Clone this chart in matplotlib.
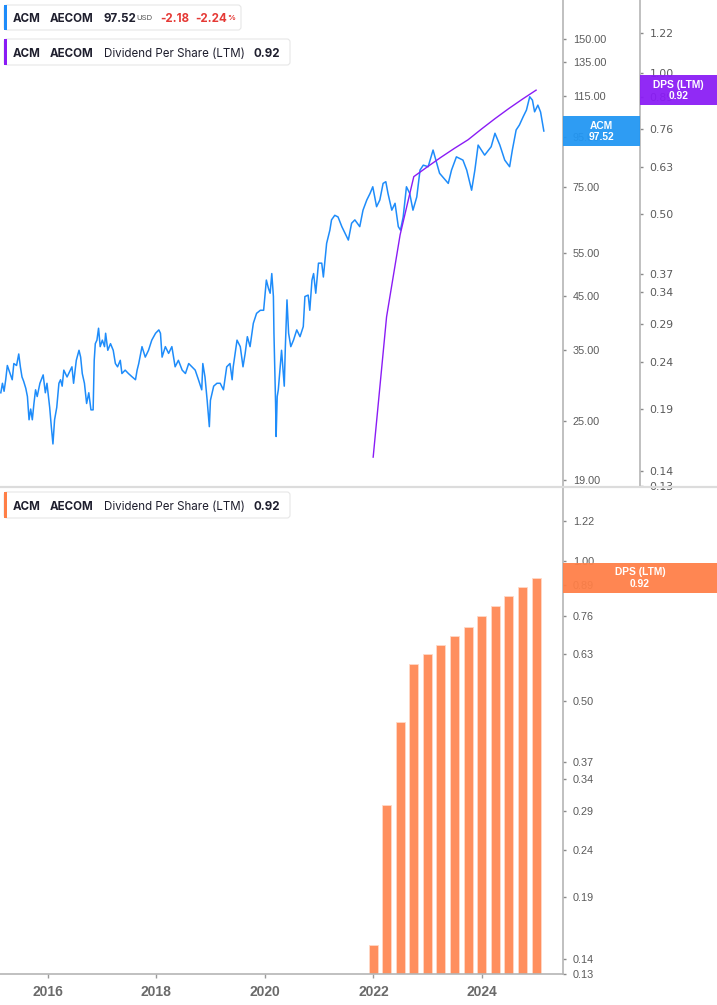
import numpy as np
import pandas as pd
import matplotlib
matplotlib.use("Agg")
import matplotlib.pyplot as plt
import matplotlib.ticker as mticker
from matplotlib.patches import Rectangle, FancyBboxPatch
from matplotlib.transforms import IdentityTransform

# ---------------- data ----------------
price_t = [2015.14, 2015.17, 2015.20, 2015.23, 2015.26, 2015.31, 2015.35, 2015.38, 2015.43, 2015.47,
           2015.50, 2015.53, 2015.56, 2015.60, 2015.63, 2015.66, 2015.69, 2015.72, 2015.75, 2015.78,
           2015.81, 2015.86, 2015.92, 2015.96, 2015.99, 2016.04, 2016.07, 2016.10, 2016.13, 2016.17,
           2016.21, 2016.24, 2016.27, 2016.30, 2016.36, 2016.42, 2016.45, 2016.48, 2016.53, 2016.58,
           2016.61, 2016.64, 2016.68, 2016.72, 2016.76, 2016.80, 2016.84, 2016.86, 2016.88, 2016.91,
           2016.94, 2016.97, 2017.01, 2017.05, 2017.07, 2017.11, 2017.16, 2017.21, 2017.25, 2017.29,
           2017.34, 2017.37, 2017.43, 2017.49, 2017.56, 2017.62, 2017.65, 2017.68, 2017.74, 2017.80,
           2017.86, 2017.92, 2017.99, 2018.05, 2018.08, 2018.11, 2018.17, 2018.23, 2018.29, 2018.35,
           2018.41, 2018.48, 2018.54, 2018.60, 2018.66, 2018.72, 2018.78, 2018.84, 2018.86, 2018.90,
           2018.94, 2018.98, 2019.00, 2019.06, 2019.12, 2019.18, 2019.24, 2019.30, 2019.36, 2019.40,
           2019.42, 2019.49, 2019.55, 2019.60, 2019.64, 2019.68, 2019.73, 2019.79, 2019.85, 2019.92,
           2019.98, 2020.03, 2020.07, 2020.10, 2020.13, 2020.16, 2020.17, 2020.20, 2020.21, 2020.23,
           2020.25, 2020.28, 2020.31, 2020.36, 2020.38, 2020.41, 2020.44, 2020.48, 2020.53, 2020.59,
           2020.65, 2020.71, 2020.74, 2020.80, 2020.83, 2020.87, 2020.90, 2020.94, 2020.99, 2021.05,
           2021.08, 2021.14, 2021.20, 2021.23, 2021.29, 2021.35, 2021.42, 2021.48, 2021.54, 2021.60,
           2021.66, 2021.75, 2021.81, 2021.88, 2021.94, 2021.99, 2022.06, 2022.12, 2022.18, 2022.23,
           2022.27, 2022.34, 2022.40, 2022.46, 2022.50, 2022.55, 2022.61, 2022.67, 2022.73, 2022.80,
           2022.86, 2022.92, 2023.01, 2023.10, 2023.22, 2023.38, 2023.44, 2023.53, 2023.65, 2023.72,
           2023.81, 2023.87, 2023.93, 2024.05, 2024.17, 2024.24, 2024.33, 2024.42, 2024.51, 2024.56,
           2024.63, 2024.69, 2024.76, 2024.82, 2024.88, 2024.93, 2024.97, 2025.03, 2025.08, 2025.14]
price_v = [28.6, 29.9, 28.8, 30.4, 32.5, 31.3, 30.4, 32.8, 32.5, 34.3,
           32.3, 30.8, 30.2, 29.2, 28.1, 25.2, 26.5, 25.2, 27.2, 29.0,
           28.1, 29.9, 31.1, 28.6, 29.9, 26.7, 24.4, 22.5, 25.2, 26.7,
           29.9, 30.4, 29.5, 31.8, 30.8, 31.8, 32.3, 29.9, 33.3, 34.9,
           33.8, 31.3, 29.9, 27.2, 28.6, 26.4, 26.4, 33.3, 36.0, 36.6,
           38.7, 35.5, 36.6, 35.5, 37.8, 34.9, 36.0, 34.9, 32.8, 32.3,
           33.3, 31.3, 31.8, 31.3, 30.8, 30.4, 31.8, 32.8, 35.5, 33.8,
           34.9, 36.6, 37.8, 38.4, 37.8, 33.8, 35.5, 34.4, 35.5, 32.3,
           33.3, 31.8, 31.3, 32.8, 32.3, 31.8, 30.4, 29.0, 32.8, 30.8,
           27.6, 24.4, 27.6, 29.5, 29.9, 29.9, 29.0, 32.3, 32.8, 30.4,
           32.3, 36.6, 35.5, 32.3, 34.4, 37.2, 35.5, 39.6, 41.5, 42.1,
           42.1, 48.5, 46.6, 45.6, 50.0, 44.9, 37.8, 27.2, 23.3, 28.1,
           29.0, 31.8, 34.9, 29.5, 35.5, 44.2, 37.8, 35.5, 36.6, 38.4,
           37.2, 39.0, 44.9, 45.2, 42.1, 48.5, 50.0, 45.6, 52.5, 52.5,
           49.2, 57.6, 61.3, 64.3, 65.7, 65.2, 62.3, 60.4, 58.5, 63.3,
           64.3, 62.3, 67.3, 70.6, 72.8, 75.1, 68.4, 70.6, 76.3, 76.9,
           72.8, 67.3, 69.5, 62.3, 61.3, 65.2, 75.1, 72.8, 67.3, 71.6,
           81.2, 83.1, 82.5, 89.2, 80.0, 76.3, 81.2, 86.4, 85.1, 81.2,
           73.9, 81.2, 91.3, 87.1, 90.6, 96.5, 91.3, 85.1, 82.5, 89.2,
           98.0, 100.3, 104.3, 107.6, 114.5, 112.7, 106.7, 110.1, 106.6, 97.52]

div_dates = ["2021-12-31", "2022-03-31", "2022-06-30", "2022-09-30", "2022-12-31",
             "2023-03-31", "2023-06-30", "2023-09-30", "2023-12-31", "2024-03-31",
             "2024-06-30", "2024-09-30", "2024-12-31"]
div_ltm = [0.15, 0.30, 0.45, 0.60, 0.63, 0.66, 0.69, 0.72, 0.76, 0.80, 0.84, 0.88, 0.92]

price_ticks = [19, 25, 35, 45, 55, 75, 95, 115, 135, 150]
dps_ticks = [0.13, 0.14, 0.19, 0.24, 0.29, 0.34, 0.37, 0.50, 0.63, 0.76, 0.89, 1.00, 1.22]
year_ticks = [2016, 2018, 2020, 2022, 2024]

ticker_sym = "ACM"
company = "AECOM"
last_price = 97.52
change = -2.18
change_pct = -2.24
metric_name = "Dividend Per Share (LTM)"
last_dps = 0.92

# ---------------- style ----------------
BLUE = "#1E8CFA"
BLUE_BOX = "#2196F3"
PURPLE = "#8A1CF5"
ORANGE_BAR = "#FF8F5E"
ORANGE_BOX = "#FF7F47"
RED = "#E53935"
AX_COL = "#b5b5b5"
TICK_TXT = "#5a5a5a"
TICK_FONT = "Liberation Sans"
LEG_FONT = "Inter"

W, H = 717, 1005
fig = plt.figure(figsize=(W / 100, H / 100), dpi=100)
fig.patch.set_facecolor("white")

def fx(px):
    return px / W

def fy(py):
    return 1 - py / H

XMIN, XMAX = 2015.125, 2025.493

def to_year(s):
    d = pd.Timestamp(s)
    start = pd.Timestamp(year=d.year, month=1, day=1)
    end = pd.Timestamp(year=d.year + 1, month=1, day=1)
    return d.year + (d - start) / (end - start)

div_t = [to_year(s) for s in div_dates]

def style_axis(ax, ticks, fmt):
    for s in ["top", "left", "bottom"]:
        ax.spines[s].set_visible(False)
    ax.spines["right"].set_visible(True)
    ax.spines["right"].set_color(AX_COL)
    ax.spines["right"].set_linewidth(1.2)
    ax.set_yscale("log")
    ax.yaxis.set_major_locator(mticker.FixedLocator(ticks))
    ax.yaxis.set_major_formatter(mticker.FuncFormatter(lambda v, p: fmt % v))
    ax.yaxis.set_minor_locator(mticker.NullLocator())
    ax.yaxis.set_minor_formatter(mticker.NullFormatter())
    ax.yaxis.set_ticks_position("right")
    ax.yaxis.set_label_position("right")
    ax.tick_params(axis="y", which="major", direction="out", length=2.5, width=1,
                   color="#8a8a8a", pad=4.5, labelsize=7.8, labelcolor=TICK_TXT,
                   left=False, labelleft=False, right=True, labelright=True)
    for lab in ax.get_yticklabels():
        lab.set_fontfamily(TICK_FONT)

# ---------------- top panel: price + DPS line ----------------
ax1 = fig.add_axes([0, fy(487), fx(563), 487 / H])
ax1.set_facecolor("none")
ax1.plot(price_t, price_v, color=BLUE, lw=1.1, zorder=3)
ax1.set_xlim(XMIN, XMAX)
ax1.set_ylim(18.39, 180.2)

ax2 = ax1.twinx()
ax2.plot(div_t, div_ltm, color=PURPLE, lw=1.0, zorder=2)
ax2.set_ylim(0.1294, 1.4365)
ax2.set_xlim(XMIN, XMAX)

style_axis(ax1, price_ticks, "%.2f")
style_axis(ax2, dps_ticks, "%.2f")
ax2.spines["right"].set_position(("axes", 640 / 563))
ax1.set_xticks([])
ax2.set_xticks([])
ax1.set_ylim(18.39, 180.2)
ax2.set_ylim(0.1294, 1.4365)

# ---------------- bottom panel: DPS bars ----------------
ax3 = fig.add_axes([0, fy(974), fx(563), (974 - 487) / H])
ax3.set_facecolor("none")
base = 0.05
ax3.bar(div_t, [v - base for v in div_ltm], bottom=base, width=0.165,
        color=ORANGE_BAR, edgecolor="#ffd9c7", linewidth=0.6, zorder=2)
ax3.set_xlim(XMIN, XMAX)
style_axis(ax3, dps_ticks, "%.2f")
ax3.set_ylim(0.1298, 1.4414)
ax3.spines["bottom"].set_visible(True)
ax3.spines["bottom"].set_color(AX_COL)
ax3.spines["bottom"].set_linewidth(1.2)
ax3.set_xticks(year_ticks)
ax3.set_xticklabels([str(y) for y in year_ticks])
ax3.tick_params(axis="x", direction="out", length=3, width=1, color="#9a9a9a",
                pad=5, labelsize=10, labelcolor="#6a6a6a")
for lab in ax3.get_xticklabels():
    lab.set_fontfamily(TICK_FONT)
    lab.set_fontweight("bold")

# separator between panels
fig.add_artist(plt.Line2D([0, 1], [fy(487), fy(487)], transform=fig.transFigure,
                          color="#dcdcdc", lw=1.6, zorder=1))

# ---------------- value tags on the axes ----------------
ID = IdentityTransform()

def data_to_py(ax, val):
    return ax.transData.transform((XMIN, val))[1]

def tag(ax, val, x0, x1, color, line1, line2):
    yc = data_to_py(ax, val)
    h = 30
    fig.add_artist(Rectangle((x0, yc - h / 2), x1 - x0, h, transform=ID,
                             facecolor=color, edgecolor="none", alpha=0.94, zorder=5))
    xc = (x0 + x1) / 2
    fig.text(xc, yc + 5.5, line1, transform=ID, ha="center", va="center", color="white",
             fontsize=7.4, fontweight="bold", family=TICK_FONT, zorder=6)
    fig.text(xc, yc - 5.8, line2, transform=ID, ha="center", va="center", color="white",
             fontsize=7.4, fontweight="bold", family=TICK_FONT, zorder=6)

fig.canvas.draw()
tag(ax1, last_price, 563, 640, BLUE_BOX, ticker_sym, "%.2f" % last_price)
tag(ax2, last_dps, 640, 717, PURPLE, "DPS (LTM)", "%.2f" % last_dps)
tag(ax3, last_dps, 563, 717, ORANGE_BOX, "DPS (LTM)", "%.2f" % last_dps)

# ---------------- legend boxes ----------------
def legend_box(x0, y0, x1, y1, color, parts):
    fig.add_artist(FancyBboxPatch((x0, H - y1), x1 - x0, y1 - y0, transform=ID,
                                  boxstyle="round,pad=0,rounding_size=3",
                                  facecolor="white", edgecolor="#e6e6e6", lw=0.8, zorder=7))
    fig.add_artist(Rectangle((x0, H - y1), 3, y1 - y0, transform=ID,
                             facecolor=color, edgecolor="none", zorder=8))
    yc = H - (y0 + y1) / 2
    for (xp, s, weight, col, size) in parts:
        fig.text(xp, yc, s, transform=ID, ha="left", va="center_baseline", color=col,
                 fontsize=size, fontweight=weight, family=LEG_FONT, zorder=9)

DARK = "#1f1f2e"
legend_box(4, 5, 241, 30, BLUE, [
    (13, ticker_sym, "bold", DARK, 8.3),
    (50, company, "bold", DARK, 8.3),
    (104, "%.2f" % last_price, "bold", DARK, 8.3),
    (136.5, "USD", "normal", "#555555", 5.6),
    (160, "%.2f" % change, "bold", RED, 8.3),
    (195, "%.2f" % change_pct, "bold", RED, 8.3),
    (227, "%", "bold", RED, 5.6),
])
legend_box(4, 39, 290, 65, PURPLE, [
    (13, ticker_sym, "bold", DARK, 8.3),
    (50, company, "bold", DARK, 8.3),
    (104, metric_name, "normal", DARK, 8.3),
    (253, "%.2f" % last_dps, "bold", DARK, 8.3),
])
legend_box(4, 492, 290, 518, ORANGE_BOX, [
    (13, ticker_sym, "bold", DARK, 8.3),
    (50, company, "bold", DARK, 8.3),
    (104, metric_name, "normal", DARK, 8.3),
    (253, "%.2f" % last_dps, "bold", DARK, 8.3),
])

fig.savefig("out.png", dpi=100, facecolor="white")
